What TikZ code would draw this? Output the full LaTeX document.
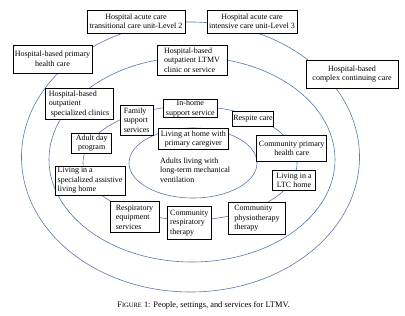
\documentclass[tikz,border=0pt]{standalone}
\usepackage{fontspec}
\setmainfont{Liberation Serif}
\definecolor{ringblue}{HTML}{5A78A8}
\begin{document}
\begin{tikzpicture}[x=1pt,y=-1pt,
  ring/.style={draw=ringblue, line width=0.6pt},
  box/.style={draw=black, line width=0.8pt, fill=white, inner sep=0.5pt,
    font=\fontsize{8}{9.5}\selectfont, align=center},
  lbox/.style={box, align=left},
  plain/.style={inner sep=0pt, font=\fontsize{8}{9.5}\selectfont}
]
\fill[white] (0,0) rectangle (405,316);
\useasboundingbox (0,0) rectangle (405,316);

% concentric rings: hospital, outpatient, community, home
\draw[ring] (190.5,157) ellipse [x radius=169pt, y radius=135pt];
\draw[ring] (192,159.5) ellipse [x radius=143pt, y radius=102.5pt];
\draw[ring] (190,163) ellipse [x radius=107pt, y radius=57pt];
\draw[ring] (193,163) ellipse [x radius=64pt, y radius=35pt];

% hospital ring
\node[box, minimum width=98pt, minimum height=23pt] (lvltwo) at (136,21.5)
  {Hospital acute care\\transitional care unit-Level 2};
\node[box, minimum width=90pt, minimum height=23pt] (lvlthree) at (252,21.5)
  {Hospital acute care\\intensive care unit-Level 3};
\node[box, minimum width=79pt, minimum height=28pt] (hprimary) at (52.5,59)
  {Hospital-based primary\\health care};
\node[box, minimum width=92pt, minimum height=28pt] (complex) at (352,74)
  {Hospital-based\\complex continuing care};

% outpatient ring
\node[lbox, minimum width=70pt, minimum height=30pt] (ltmv) at (192,60)
  {Hospital-based\\outpatient LTMV\\clinic or service};
\node[lbox, minimum width=68pt, minimum height=31pt] (clinics) at (79,104)
  {Hospital-based\\outpatient\\\ specialized clinics};

% community ring
\node[lbox, minimum width=33pt, minimum height=30pt] (family) at (136.7,120)
  {Family\\support\\services};
\node[box, minimum width=54pt, minimum height=17.5pt] (inhome) at (190.3,108.7)
  {In-home\\support service};
\node[box, minimum width=40.6pt, minimum height=15pt] (respite) at (253,119)
  {Respite care};
\node[box, minimum width=70pt, minimum height=26.7pt] (cprimary) at (291.7,148.3)
  {Community primary\\health care};
\node[box, minimum width=43.5pt, minimum height=20pt] (ltc) at (294,180.3)
  {Living in a\\LTC home};
\node[lbox, minimum width=57.4pt, minimum height=32pt] (physio) at (257,218.5)
  {Community\\physiotherapy\\therapy};
\node[lbox, minimum width=44.5pt, minimum height=32.5pt] (resptherapy) at (189.3,223)
  {Community\\respiratory\\therapy};
\node[lbox, minimum width=49pt, minimum height=30.5pt] (equipment) at (134.5,217)
  {Respiratory\\equipment\\services};
\node[lbox, minimum width=70pt, minimum height=29pt] (assistive) at (90,180.5)
  {Living in a\\specialized assistive\\living home};
\node[box, minimum width=40pt, minimum height=20pt] (adultday) at (91.7,143.3)
  {Adult day\\program};

% home ring
\node[box, minimum width=70pt, minimum height=21.7pt] (athome) at (193.3,139)
  {Living at home with\\primary caregiver};
\node[plain, align=left, anchor=west] (adults) at (160,170)
  {Adults living with\\long-term mechanical\\ventilation};

% caption
\node[plain, font=\fontsize{8.4}{10}\selectfont] (caption) at (203.5,305)
  {F{\fontsize{6.5}{7}\selectfont IGURE} 1: People, settings, and services for LTMV.};
\end{tikzpicture}
\end{document}
